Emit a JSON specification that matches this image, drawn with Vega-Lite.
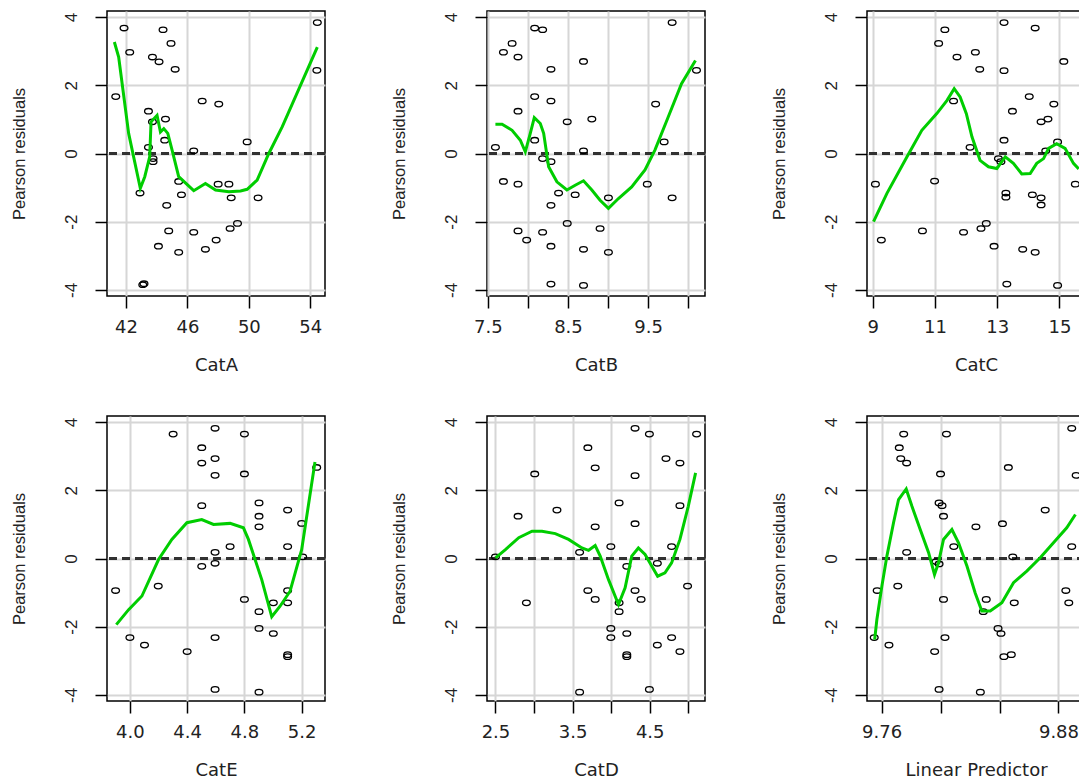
{
"$schema": "https://vega.github.io/schema/vega-lite/v6.json",
"background": "white",
"padding": {"left": 10, "top": 10, "right": 0, "bottom": 0},
"datasets": {
"pts": [
{"p":"A","x":41.87,"y":3.68},{"p":"A","x":44.41,"y":3.63},{"p":"A","x":54.46,"y":3.84},{"p":"A","x":44.93,"y":3.23},{"p":"A","x":42.24,"y":2.97},{"p":"A","x":43.72,"y":2.83},{"p":"A","x":44.15,"y":2.69},{"p":"A","x":45.2,"y":2.47},{"p":"A","x":54.43,"y":2.44},{"p":"A","x":41.33,"y":1.67},{"p":"A","x":46.96,"y":1.54},{"p":"A","x":48.04,"y":1.45},{"p":"A","x":43.46,"y":1.24},{"p":"A","x":43.72,"y":0.93},{"p":"A","x":44.57,"y":1.01},{"p":"A","x":44.52,"y":0.39},{"p":"A","x":49.89,"y":0.34},{"p":"A","x":43.46,"y":0.18},{"p":"A","x":46.41,"y":0.08},{"p":"A","x":43.76,"y":-0.15},{"p":"A","x":43.76,"y":-0.24},{"p":"A","x":42.91,"y":-1.16},{"p":"A","x":45.43,"y":-0.82},{"p":"A","x":45.61,"y":-1.21},{"p":"A","x":48.0,"y":-0.9},{"p":"A","x":48.7,"y":-0.9},{"p":"A","x":48.85,"y":-1.3},{"p":"A","x":50.6,"y":-1.3},{"p":"A","x":44.65,"y":-1.52},{"p":"A","x":44.78,"y":-2.27},{"p":"A","x":46.41,"y":-2.31},{"p":"A","x":44.11,"y":-2.72},{"p":"A","x":45.43,"y":-2.9},{"p":"A","x":47.17,"y":-2.81},{"p":"A","x":47.87,"y":-2.54},{"p":"A","x":48.78,"y":-2.2},{"p":"A","x":49.26,"y":-2.05},{"p":"A","x":43.09,"y":-3.85},{"p":"A","x":43.17,"y":-3.82},
{"p":"B","x":8.085,"y":3.68},{"p":"B","x":8.184,"y":3.63},{"p":"B","x":9.80,"y":3.84},{"p":"B","x":7.803,"y":3.23},{"p":"B","x":7.695,"y":2.97},{"p":"B","x":7.877,"y":2.83},{"p":"B","x":8.694,"y":2.70},{"p":"B","x":8.288,"y":2.47},{"p":"B","x":10.104,"y":2.44},{"p":"B","x":8.085,"y":1.67},{"p":"B","x":8.288,"y":1.54},{"p":"B","x":9.594,"y":1.45},{"p":"B","x":7.877,"y":1.24},{"p":"B","x":8.491,"y":0.93},{"p":"B","x":8.798,"y":1.01},{"p":"B","x":8.085,"y":0.39},{"p":"B","x":9.70,"y":0.34},{"p":"B","x":7.595,"y":0.18},{"p":"B","x":8.694,"y":0.08},{"p":"B","x":8.184,"y":-0.15},{"p":"B","x":8.288,"y":-0.24},{"p":"B","x":7.695,"y":-0.82},{"p":"B","x":7.877,"y":-0.9},{"p":"B","x":8.383,"y":-1.16},{"p":"B","x":8.59,"y":-1.21},{"p":"B","x":9.005,"y":-1.3},{"p":"B","x":9.49,"y":-0.9},{"p":"B","x":9.80,"y":-1.3},{"p":"B","x":8.288,"y":-1.52},{"p":"B","x":8.491,"y":-2.05},{"p":"B","x":7.877,"y":-2.27},{"p":"B","x":8.184,"y":-2.31},{"p":"B","x":8.901,"y":-2.2},{"p":"B","x":7.985,"y":-2.54},{"p":"B","x":8.288,"y":-2.72},{"p":"B","x":8.694,"y":-2.81},{"p":"B","x":9.005,"y":-2.9},{"p":"B","x":8.288,"y":-3.83},{"p":"B","x":8.694,"y":-3.87},
{"p":"C","x":13.22,"y":3.84},{"p":"C","x":11.32,"y":3.63},{"p":"C","x":14.22,"y":3.68},{"p":"C","x":11.12,"y":3.23},{"p":"C","x":12.30,"y":2.97},{"p":"C","x":11.71,"y":2.83},{"p":"C","x":12.44,"y":2.47},{"p":"C","x":13.22,"y":2.43},{"p":"C","x":15.14,"y":2.70},{"p":"C","x":14.03,"y":1.67},{"p":"C","x":11.60,"y":1.54},{"p":"C","x":14.82,"y":1.45},{"p":"C","x":13.49,"y":1.24},{"p":"C","x":14.41,"y":0.93},{"p":"C","x":14.63,"y":1.01},{"p":"C","x":13.22,"y":0.39},{"p":"C","x":14.94,"y":0.34},{"p":"C","x":12.13,"y":0.18},{"p":"C","x":14.56,"y":0.08},{"p":"C","x":13.04,"y":-0.15},{"p":"C","x":13.12,"y":-0.24},{"p":"C","x":9.09,"y":-0.9},{"p":"C","x":10.99,"y":-0.81},{"p":"C","x":13.28,"y":-1.16},{"p":"C","x":13.28,"y":-1.28},{"p":"C","x":14.13,"y":-1.21},{"p":"C","x":14.41,"y":-1.3},{"p":"C","x":14.41,"y":-1.51},{"p":"C","x":15.51,"y":-0.9},{"p":"C","x":10.60,"y":-2.27},{"p":"C","x":11.92,"y":-2.31},{"p":"C","x":12.48,"y":-2.2},{"p":"C","x":12.65,"y":-2.05},{"p":"C","x":9.28,"y":-2.54},{"p":"C","x":12.90,"y":-2.72},{"p":"C","x":13.82,"y":-2.81},{"p":"C","x":14.22,"y":-2.9},{"p":"C","x":13.31,"y":-3.83},{"p":"C","x":14.94,"y":-3.87},
{"p":"E","x":4.595,"y":3.82},{"p":"E","x":4.302,"y":3.65},{"p":"E","x":4.80,"y":3.65},{"p":"E","x":4.502,"y":3.25},{"p":"E","x":4.595,"y":2.93},{"p":"E","x":4.502,"y":2.80},{"p":"E","x":4.595,"y":2.44},{"p":"E","x":4.80,"y":2.48},{"p":"E","x":5.305,"y":2.67},{"p":"E","x":4.502,"y":1.55},{"p":"E","x":4.902,"y":1.63},{"p":"E","x":4.902,"y":1.24},{"p":"E","x":4.902,"y":0.93},{"p":"E","x":5.102,"y":1.42},{"p":"E","x":5.2,"y":1.03},{"p":"E","x":5.102,"y":0.35},{"p":"E","x":4.70,"y":0.35},{"p":"E","x":4.595,"y":0.18},{"p":"E","x":5.207,"y":0.05},{"p":"E","x":4.502,"y":-0.23},{"p":"E","x":4.595,"y":-0.14},{"p":"E","x":3.90,"y":-0.94},{"p":"E","x":4.198,"y":-0.81},{"p":"E","x":4.80,"y":-1.2},{"p":"E","x":5.002,"y":-1.3},{"p":"E","x":5.102,"y":-0.94},{"p":"E","x":5.102,"y":-1.3},{"p":"E","x":4.902,"y":-1.56},{"p":"E","x":4.902,"y":-2.05},{"p":"E","x":5.002,"y":-2.2},{"p":"E","x":4.0,"y":-2.32},{"p":"E","x":4.595,"y":-2.32},{"p":"E","x":4.102,"y":-2.54},{"p":"E","x":4.40,"y":-2.73},{"p":"E","x":5.102,"y":-2.82},{"p":"E","x":5.102,"y":-2.88},{"p":"E","x":4.595,"y":-3.84},{"p":"E","x":4.902,"y":-3.92},
{"p":"D","x":4.31,"y":3.82},{"p":"D","x":4.496,"y":3.65},{"p":"D","x":5.108,"y":3.65},{"p":"D","x":3.698,"y":3.25},{"p":"D","x":4.711,"y":2.93},{"p":"D","x":4.892,"y":2.80},{"p":"D","x":3.793,"y":2.66},{"p":"D","x":3.009,"y":2.48},{"p":"D","x":4.31,"y":2.43},{"p":"D","x":4.103,"y":1.63},{"p":"D","x":4.892,"y":1.55},{"p":"D","x":3.297,"y":1.42},{"p":"D","x":2.793,"y":1.24},{"p":"D","x":4.31,"y":1.02},{"p":"D","x":3.793,"y":0.93},{"p":"D","x":3.996,"y":0.35},{"p":"D","x":4.784,"y":0.35},{"p":"D","x":3.591,"y":0.18},{"p":"D","x":2.5,"y":0.05},{"p":"D","x":4.203,"y":-0.23},{"p":"D","x":4.599,"y":-0.14},{"p":"D","x":4.991,"y":-0.81},{"p":"D","x":3.698,"y":-0.94},{"p":"D","x":4.31,"y":-0.94},{"p":"D","x":3.793,"y":-1.2},{"p":"D","x":4.388,"y":-1.2},{"p":"D","x":2.901,"y":-1.3},{"p":"D","x":4.103,"y":-1.3},{"p":"D","x":4.103,"y":-1.56},{"p":"D","x":3.996,"y":-2.05},{"p":"D","x":3.996,"y":-2.32},{"p":"D","x":4.203,"y":-2.2},{"p":"D","x":4.784,"y":-2.32},{"p":"D","x":4.599,"y":-2.54},{"p":"D","x":4.892,"y":-2.73},{"p":"D","x":4.203,"y":-2.82},{"p":"D","x":4.203,"y":-2.88},{"p":"D","x":3.591,"y":-3.92},{"p":"D","x":4.496,"y":-3.84},
{"p":"L","x":9.889,"y":3.82},{"p":"L","x":9.775,"y":3.65},{"p":"L","x":9.804,"y":3.65},{"p":"L","x":9.772,"y":3.25},{"p":"L","x":9.773,"y":2.93},{"p":"L","x":9.777,"y":2.80},{"p":"L","x":9.846,"y":2.67},{"p":"L","x":9.800,"y":2.48},{"p":"L","x":9.892,"y":2.44},{"p":"L","x":9.799,"y":1.63},{"p":"L","x":9.801,"y":1.55},{"p":"L","x":9.871,"y":1.42},{"p":"L","x":9.802,"y":1.24},{"p":"L","x":9.824,"y":0.93},{"p":"L","x":9.842,"y":1.02},{"p":"L","x":9.889,"y":0.35},{"p":"L","x":9.809,"y":0.35},{"p":"L","x":9.777,"y":0.18},{"p":"L","x":9.849,"y":0.05},{"p":"L","x":9.797,"y":-0.09},{"p":"L","x":9.799,"y":-0.16},{"p":"L","x":9.757,"y":-0.94},{"p":"L","x":9.771,"y":-0.81},{"p":"L","x":9.802,"y":-1.2},{"p":"L","x":9.831,"y":-1.2},{"p":"L","x":9.829,"y":-1.56},{"p":"L","x":9.850,"y":-1.3},{"p":"L","x":9.885,"y":-0.94},{"p":"L","x":9.887,"y":-1.3},{"p":"L","x":9.755,"y":-2.32},{"p":"L","x":9.765,"y":-2.54},{"p":"L","x":9.803,"y":-2.32},{"p":"L","x":9.796,"y":-2.73},{"p":"L","x":9.839,"y":-2.05},{"p":"L","x":9.841,"y":-2.2},{"p":"L","x":9.843,"y":-2.88},{"p":"L","x":9.848,"y":-2.82},{"p":"L","x":9.799,"y":-3.84},{"p":"L","x":9.827,"y":-3.92}
],
"fit": [
{"p":"A","x":41.24,"y":3.27},{"p":"A","x":41.52,"y":2.83},{"p":"A","x":42.17,"y":0.59},{"p":"A","x":42.93,"y":-1.02},{"p":"A","x":43.22,"y":-0.68},{"p":"A","x":43.54,"y":-0.1},{"p":"A","x":43.63,"y":0.93},{"p":"A","x":44.02,"y":1.12},{"p":"A","x":44.24,"y":0.63},{"p":"A","x":44.46,"y":0.73},{"p":"A","x":44.72,"y":0.59},{"p":"A","x":45.0,"y":0.1},{"p":"A","x":45.43,"y":-0.68},{"p":"A","x":46.41,"y":-1.09},{"p":"A","x":47.17,"y":-0.88},{"p":"A","x":47.83,"y":-1.07},{"p":"A","x":48.7,"y":-1.12},{"p":"A","x":49.46,"y":-1.1},{"p":"A","x":49.89,"y":-1.05},{"p":"A","x":50.54,"y":-0.78},{"p":"A","x":51.3,"y":0.0},{"p":"A","x":52.17,"y":0.78},{"p":"A","x":54.46,"y":3.12},
{"p":"B","x":7.595,"y":0.86},{"p":"B","x":7.678,"y":0.86},{"p":"B","x":7.803,"y":0.68},{"p":"B","x":7.906,"y":0.39},{"p":"B","x":7.968,"y":0.05},{"p":"B","x":8.03,"y":0.59},{"p":"B","x":8.08,"y":1.05},{"p":"B","x":8.155,"y":0.88},{"p":"B","x":8.197,"y":0.59},{"p":"B","x":8.259,"y":-0.39},{"p":"B","x":8.362,"y":-0.83},{"p":"B","x":8.487,"y":-1.07},{"p":"B","x":8.59,"y":-0.93},{"p":"B","x":8.694,"y":-0.8},{"p":"B","x":8.798,"y":-1.07},{"p":"B","x":8.901,"y":-1.37},{"p":"B","x":9.005,"y":-1.61},{"p":"B","x":9.13,"y":-1.32},{"p":"B","x":9.295,"y":-0.98},{"p":"B","x":9.461,"y":-0.48},{"p":"B","x":9.585,"y":0.1},{"p":"B","x":9.751,"y":1.07},{"p":"B","x":9.917,"y":2.05},{"p":"B","x":10.091,"y":2.73},
{"p":"C","x":9.03,"y":-2.0},{"p":"C","x":9.46,"y":-1.17},{"p":"C","x":10.10,"y":-0.1},{"p":"C","x":10.58,"y":0.68},{"p":"C","x":11.06,"y":1.17},{"p":"C","x":11.39,"y":1.56},{"p":"C","x":11.62,"y":1.9},{"p":"C","x":11.81,"y":1.66},{"p":"C","x":12.01,"y":1.17},{"p":"C","x":12.19,"y":0.49},{"p":"C","x":12.45,"y":-0.2},{"p":"C","x":12.72,"y":-0.39},{"p":"C","x":12.99,"y":-0.44},{"p":"C","x":13.26,"y":-0.1},{"p":"C","x":13.52,"y":-0.29},{"p":"C","x":13.79,"y":-0.6},{"p":"C","x":14.06,"y":-0.59},{"p":"C","x":14.27,"y":-0.29},{"p":"C","x":14.49,"y":-0.15},{"p":"C","x":14.65,"y":0.15},{"p":"C","x":14.91,"y":0.29},{"p":"C","x":15.18,"y":0.15},{"p":"C","x":15.45,"y":-0.29},{"p":"C","x":15.62,"y":-0.45},
{"p":"E","x":3.905,"y":-1.94},{"p":"E","x":3.991,"y":-1.5},{"p":"E","x":4.084,"y":-1.1},{"p":"E","x":4.2,"y":-0.03},{"p":"E","x":4.293,"y":0.56},{"p":"E","x":4.398,"y":1.05},{"p":"E","x":4.502,"y":1.14},{"p":"E","x":4.584,"y":1.0},{"p":"E","x":4.70,"y":1.03},{"p":"E","x":4.793,"y":0.9},{"p":"E","x":4.828,"y":0.56},{"p":"E","x":4.921,"y":-0.62},{"p":"E","x":4.991,"y":-1.71},{"p":"E","x":5.049,"y":-1.4},{"p":"E","x":5.119,"y":-0.96},{"p":"E","x":5.2,"y":0.26},{"p":"E","x":5.293,"y":2.83},
{"p":"D","x":2.5,"y":0.02},{"p":"D","x":2.629,"y":0.26},{"p":"D","x":2.802,"y":0.61},{"p":"D","x":2.974,"y":0.8},{"p":"D","x":3.103,"y":0.8},{"p":"D","x":3.276,"y":0.73},{"p":"D","x":3.448,"y":0.56},{"p":"D","x":3.621,"y":0.31},{"p":"D","x":3.707,"y":0.24},{"p":"D","x":3.793,"y":0.38},{"p":"D","x":3.858,"y":0.07},{"p":"D","x":3.966,"y":-0.62},{"p":"D","x":4.095,"y":-1.35},{"p":"D","x":4.181,"y":-0.86},{"p":"D","x":4.267,"y":0.07},{"p":"D","x":4.353,"y":0.31},{"p":"D","x":4.44,"y":0.12},{"p":"D","x":4.526,"y":-0.22},{"p":"D","x":4.603,"y":-0.52},{"p":"D","x":4.698,"y":-0.42},{"p":"D","x":4.784,"y":-0.13},{"p":"D","x":4.892,"y":0.56},{"p":"D","x":5.0,"y":1.53},{"p":"D","x":5.095,"y":2.51},
{"p":"L","x":9.7553,"y":-2.38},{"p":"L","x":9.7568,"y":-1.79},{"p":"L","x":9.7602,"y":-0.81},{"p":"L","x":9.7636,"y":0.07},{"p":"L","x":9.7681,"y":1.05},{"p":"L","x":9.7715,"y":1.73},{"p":"L","x":9.7767,"y":2.04},{"p":"L","x":9.7806,"y":1.53},{"p":"L","x":9.7862,"y":0.85},{"p":"L","x":9.7919,"y":0.17},{"p":"L","x":9.7959,"y":-0.47},{"p":"L","x":9.7986,"y":-0.13},{"p":"L","x":9.802,"y":0.56},{"p":"L","x":9.8077,"y":0.85},{"p":"L","x":9.8122,"y":0.46},{"p":"L","x":9.8179,"y":-0.22},{"p":"L","x":9.8235,"y":-1.01},{"p":"L","x":9.828,"y":-1.54},{"p":"L","x":9.8337,"y":-1.54},{"p":"L","x":9.8416,"y":-1.3},{"p":"L","x":9.8495,"y":-0.71},{"p":"L","x":9.8585,"y":-0.37},{"p":"L","x":9.8676,"y":0.02},{"p":"L","x":9.8766,"y":0.46},{"p":"L","x":9.8856,"y":0.9},{"p":"L","x":9.8915,"y":1.29}
]
},
"bounds": "flush",
"columns": 3,
"spacing": {"row": 120, "column": 162},
"concat": [
{"width": 218, "height": 285, "layer": [
 {"data": {"name": "pts"}, "transform": [{"filter": "datum.p == 'A'"}], "mark": {"type": "rule", "strokeDash": [8,5], "color": "#333333", "strokeWidth": 1.5}, "encoding": {"y": {"datum": 0, "type": "quantitative", "scale": {"domain": [-4.18, 4.18], "nice": false}, "axis": {"values": [-4,-2,0,2,4], "labelExpr": "datum.value + ''", "title": "Pearson residuals"}}}},
 {"data": {"name": "pts"}, "transform": [{"filter": "datum.p == 'A'"}], "mark": {"type": "point", "shape": "M-1,0A1,0.7 0 1,0 1,0A1,0.7 0 1,0 -1,0Z", "filled": false, "stroke": "black", "strokeWidth": 1.3, "size": 60, "opacity": 1}, "encoding": {"x": {"field": "x", "type": "quantitative", "scale": {"domain": [40.76, 54.96], "nice": false, "zero": false}, "axis": {"values": [42,44,46,48,50,52,54], "labelExpr": "datum.value % 4 == 2 ? datum.label : ''", "title": "CatA"}}, "y": {"field": "y", "type": "quantitative", "title": "Pearson residuals"}}},
 {"data": {"name": "fit"}, "transform": [{"filter": "datum.p == 'A'"}], "mark": {"type": "line", "color": "#00CD00", "strokeWidth": 3}, "encoding": {"x": {"field": "x", "type": "quantitative", "title": "CatA"}, "y": {"field": "y", "type": "quantitative", "title": "Pearson residuals"}}}
]},
{"width": 218, "height": 285, "layer": [
 {"data": {"name": "pts"}, "transform": [{"filter": "datum.p == 'B'"}], "mark": {"type": "rule", "strokeDash": [8,5], "color": "#333333", "strokeWidth": 1.5}, "encoding": {"y": {"datum": 0, "type": "quantitative", "scale": {"domain": [-4.18, 4.18], "nice": false}, "axis": {"values": [-4,-2,0,2,4], "labelExpr": "datum.value + ''", "title": "Pearson residuals"}}}},
 {"data": {"name": "pts"}, "transform": [{"filter": "datum.p == 'B'"}], "mark": {"type": "point", "shape": "M-1,0A1,0.7 0 1,0 1,0A1,0.7 0 1,0 -1,0Z", "filled": false, "stroke": "black", "strokeWidth": 1.3, "size": 60, "opacity": 1}, "encoding": {"x": {"field": "x", "type": "quantitative", "scale": {"domain": [7.49, 10.21], "nice": false, "zero": false}, "axis": {"values": [7.5,8,8.5,9,9.5,10], "labelExpr": "round(datum.value*2) % 2 == 1 ? format(datum.value, '.1f') : ''", "title": "CatB"}}, "y": {"field": "y", "type": "quantitative", "title": "Pearson residuals"}}},
 {"data": {"name": "fit"}, "transform": [{"filter": "datum.p == 'B'"}], "mark": {"type": "line", "color": "#00CD00", "strokeWidth": 3}, "encoding": {"x": {"field": "x", "type": "quantitative", "title": "CatB"}, "y": {"field": "y", "type": "quantitative", "title": "Pearson residuals"}}}
]},
{"width": 218, "height": 285, "layer": [
 {"data": {"name": "pts"}, "transform": [{"filter": "datum.p == 'C'"}], "mark": {"type": "rule", "strokeDash": [8,5], "color": "#333333", "strokeWidth": 1.5}, "encoding": {"y": {"datum": 0, "type": "quantitative", "scale": {"domain": [-4.18, 4.18], "nice": false}, "axis": {"values": [-4,-2,0,2,4], "labelExpr": "datum.value + ''", "title": "Pearson residuals"}}}},
 {"data": {"name": "pts"}, "transform": [{"filter": "datum.p == 'C'"}], "mark": {"type": "point", "shape": "M-1,0A1,0.7 0 1,0 1,0A1,0.7 0 1,0 -1,0Z", "filled": false, "stroke": "black", "strokeWidth": 1.3, "size": 60, "opacity": 1}, "encoding": {"x": {"field": "x", "type": "quantitative", "scale": {"domain": [8.82, 15.82], "nice": false, "zero": false}, "axis": {"values": [9,10,11,12,13,14,15], "labelExpr": "datum.value % 2 == 1 ? datum.label : ''", "title": "CatC"}}, "y": {"field": "y", "type": "quantitative", "title": "Pearson residuals"}}},
 {"data": {"name": "fit"}, "transform": [{"filter": "datum.p == 'C'"}], "mark": {"type": "line", "color": "#00CD00", "strokeWidth": 3}, "encoding": {"x": {"field": "x", "type": "quantitative", "title": "CatC"}, "y": {"field": "y", "type": "quantitative", "title": "Pearson residuals"}}}
]},
{"width": 218, "height": 285, "layer": [
 {"data": {"name": "pts"}, "transform": [{"filter": "datum.p == 'E'"}], "mark": {"type": "rule", "strokeDash": [8,5], "color": "#333333", "strokeWidth": 1.5}, "encoding": {"y": {"datum": 0, "type": "quantitative", "scale": {"domain": [-4.18, 4.18], "nice": false}, "axis": {"values": [-4,-2,0,2,4], "labelExpr": "datum.value + ''", "title": "Pearson residuals"}}}},
 {"data": {"name": "pts"}, "transform": [{"filter": "datum.p == 'E'"}], "mark": {"type": "point", "shape": "M-1,0A1,0.7 0 1,0 1,0A1,0.7 0 1,0 -1,0Z", "filled": false, "stroke": "black", "strokeWidth": 1.3, "size": 60, "opacity": 1}, "encoding": {"x": {"field": "x", "type": "quantitative", "scale": {"domain": [3.84, 5.363], "nice": false, "zero": false}, "axis": {"values": [4.0,4.2,4.4,4.6,4.8,5.0,5.2], "labelExpr": "round(datum.value*10) % 4 == 0 ? format(datum.value, '.1f') : ''", "title": "CatE"}}, "y": {"field": "y", "type": "quantitative", "title": "Pearson residuals"}}},
 {"data": {"name": "fit"}, "transform": [{"filter": "datum.p == 'E'"}], "mark": {"type": "line", "color": "#00CD00", "strokeWidth": 3}, "encoding": {"x": {"field": "x", "type": "quantitative", "title": "CatE"}, "y": {"field": "y", "type": "quantitative", "title": "Pearson residuals"}}}
]},
{"width": 218, "height": 285, "layer": [
 {"data": {"name": "pts"}, "transform": [{"filter": "datum.p == 'D'"}], "mark": {"type": "rule", "strokeDash": [8,5], "color": "#333333", "strokeWidth": 1.5}, "encoding": {"y": {"datum": 0, "type": "quantitative", "scale": {"domain": [-4.18, 4.18], "nice": false}, "axis": {"values": [-4,-2,0,2,4], "labelExpr": "datum.value + ''", "title": "Pearson residuals"}}}},
 {"data": {"name": "pts"}, "transform": [{"filter": "datum.p == 'D'"}], "mark": {"type": "point", "shape": "M-1,0A1,0.7 0 1,0 1,0A1,0.7 0 1,0 -1,0Z", "filled": false, "stroke": "black", "strokeWidth": 1.3, "size": 60, "opacity": 1}, "encoding": {"x": {"field": "x", "type": "quantitative", "scale": {"domain": [2.39, 5.217], "nice": false, "zero": false}, "axis": {"values": [2.5,3,3.5,4,4.5,5], "labelExpr": "round(datum.value*2) % 2 == 1 ? format(datum.value, '.1f') : ''", "title": "CatD"}}, "y": {"field": "y", "type": "quantitative", "title": "Pearson residuals"}}},
 {"data": {"name": "fit"}, "transform": [{"filter": "datum.p == 'D'"}], "mark": {"type": "line", "color": "#00CD00", "strokeWidth": 3}, "encoding": {"x": {"field": "x", "type": "quantitative", "title": "CatD"}, "y": {"field": "y", "type": "quantitative", "title": "Pearson residuals"}}}
]},
{"width": 218, "height": 285, "layer": [
 {"data": {"name": "pts"}, "transform": [{"filter": "datum.p == 'L'"}], "mark": {"type": "rule", "strokeDash": [8,5], "color": "#333333", "strokeWidth": 1.5}, "encoding": {"y": {"datum": 0, "type": "quantitative", "scale": {"domain": [-4.18, 4.18], "nice": false}, "axis": {"values": [-4,-2,0,2,4], "labelExpr": "datum.value + ''", "title": "Pearson residuals"}}}},
 {"data": {"name": "pts"}, "transform": [{"filter": "datum.p == 'L'"}], "mark": {"type": "point", "shape": "M-1,0A1,0.7 0 1,0 1,0A1,0.7 0 1,0 -1,0Z", "filled": false, "stroke": "black", "strokeWidth": 1.3, "size": 60, "opacity": 1}, "encoding": {"x": {"field": "x", "type": "quantitative", "scale": {"domain": [9.7501, 9.898], "nice": false, "zero": false}, "axis": {"values": [9.76,9.78,9.80,9.82,9.84,9.86,9.88], "labelExpr": "(round(datum.value*100) - 976) % 6 == 0 ? format(datum.value, '.2f') : ''", "title": "Linear Predictor"}}, "y": {"field": "y", "type": "quantitative", "title": "Pearson residuals"}}},
 {"data": {"name": "fit"}, "transform": [{"filter": "datum.p == 'L'"}], "mark": {"type": "line", "color": "#00CD00", "strokeWidth": 3}, "encoding": {"x": {"field": "x", "type": "quantitative", "title": "Linear Predictor"}, "y": {"field": "y", "type": "quantitative", "title": "Pearson residuals"}}}
]}
],
"config": {
 "view": {"stroke": "black", "strokeWidth": 1.5},
 "axis": {"grid": true, "gridColor": "#d6d6d6", "gridWidth": 2, "domain": false, "tickColor": "black", "tickSize": 12, "tickWidth": 1.5, "labelFont": "DejaVu Sans", "labelFontSize": 18, "labelColor": "#222222", "titleFont": "DejaVu Sans", "titleFontSize": 18, "titleFontWeight": "normal", "titleColor": "#222222", "labelFlush": false, "labelOverlap": false},
 "axisY": {"labelAngle": -90, "labelFont": "Liberation Sans", "labelFontSize": 17, "labelPadding": 15, "titleFont": "Liberation Sans", "titleFontSize": 16.5, "titlePadding": 35},
 "axisX": {"labelPadding": 10, "titlePadding": 20}
}
}
